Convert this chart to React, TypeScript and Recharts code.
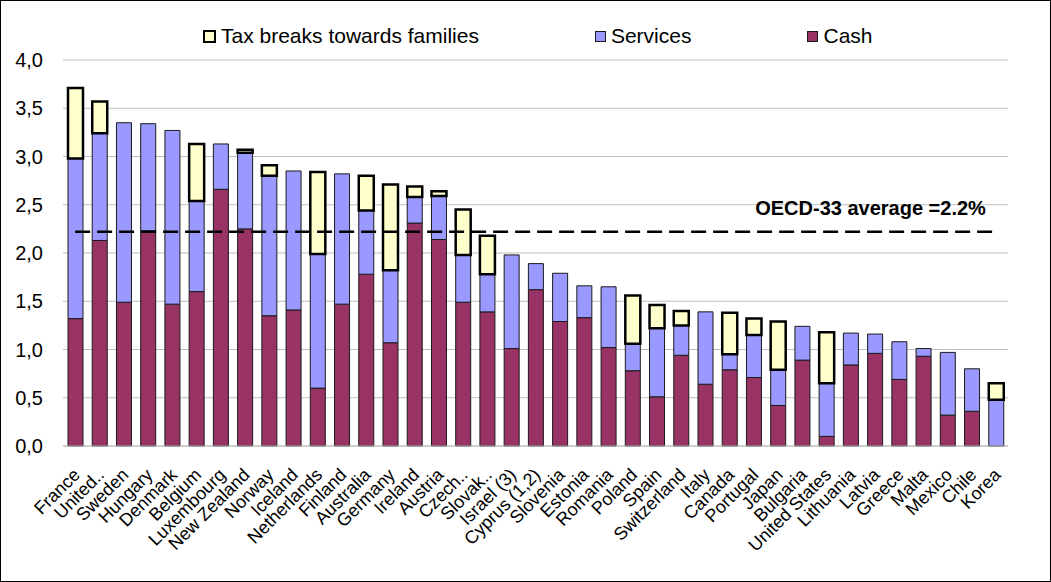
import {
  Bar,
  BarChart,
  CartesianGrid,
  Legend,
  ReferenceLine,
  XAxis,
  YAxis,
} from 'recharts';

const COUNTRIES = [
  'France', 'United..', 'Sweden', 'Hungary', 'Denmark', 'Belgium', 'Luxembourg',
  'New Zealand', 'Norway', 'Iceland', 'Netherlands', 'Finland', 'Australia',
  'Germany', 'Ireland', 'Austria', 'Czech..', 'Slovak..', 'Israel (3)',
  'Cyprus (1,2)', 'Slovenia', 'Estonia', 'Romania', 'Poland', 'Spain',
  'Switzerland', 'Italy', 'Canada', 'Portugal', 'Japan', 'Bulgaria',
  'United States', 'Lithuania', 'Latvia', 'Greece', 'Malta', 'Mexico', 'Chile', 'Korea',
];

const CASH = [
  1.32, 2.13, 1.49, 2.23, 1.47, 1.60, 2.66, 2.25, 1.35, 1.41, 0.60, 1.47, 1.78,
  1.07, 2.31, 2.14, 1.49, 1.39, 1.01, 1.62, 1.29, 1.33, 1.02, 0.78, 0.51, 0.94,
  0.64, 0.79, 0.71, 0.42, 0.89, 0.10, 0.84, 0.96, 0.69, 0.93, 0.32, 0.36, 0,
];

const SERVICES = [
  1.66, 1.11, 1.86, 1.11, 1.80, 0.94, 0.47, 0.79, 1.45, 1.44, 1.39, 1.35, 0.66,
  0.75, 0.27, 0.45, 0.49, 0.39, 0.97, 0.27, 0.50, 0.33, 0.63, 0.28, 0.71, 0.31,
  0.75, 0.16, 0.44, 0.37, 0.35, 0.55, 0.33, 0.20, 0.39, 0.08, 0.65, 0.44, 0.48,
];

const TAX_BREAKS = [
  0.73, 0.33, 0, 0, 0, 0.59, 0, 0.03, 0.11, 0, 0.85, 0, 0.36,
  0.89, 0.11, 0.05, 0.47, 0.40, 0, 0, 0, 0, 0, 0.50, 0.24, 0.15,
  0, 0.43, 0.17, 0.50, 0, 0.53, 0, 0, 0, 0, 0, 0, 0.17,
];

const Y_TICKS = [0, 0.5, 1, 1.5, 2, 2.5, 3, 3.5, 4];
const OECD_AVERAGE = 2.22;
const OECD_LABEL = 'OECD-33 average =2.2%';

const DATA = COUNTRIES.map((country, i) => ({
  country,
  cash: CASH[i],
  services: SERVICES[i],
  tax: TAX_BREAKS[i],
}));

const FONT = "'Liberation Sans', Arial, sans-serif";

const SERIES_STYLE: Record<string, { fill: string; stroke: string; strokeWidth: number }> = {
  cash:     { fill: '#993366', stroke: '#1a1a1a', strokeWidth: 1 },
  services: { fill: '#9999FF', stroke: '#1a1a1a', strokeWidth: 1 },
  tax:      { fill: '#FFFFCC', stroke: '#000000', strokeWidth: 2.5 },
};

interface LegendEntry {
  value?: string;
  dataKey?: string;
}

function ChartLegend({ payload }: { payload?: LegendEntry[] }) {
  const items = [...(payload ?? [])].reverse();
  return (
    <div style={{ display: 'flex', alignItems: 'center', gap: 116, fontFamily: FONT, fontSize: 21 }}>
      {items.map((entry) => {
        const s = SERIES_STYLE[String(entry.dataKey)];
        return (
          <div key={String(entry.dataKey)} style={{ display: 'flex', alignItems: 'center', gap: 5 }}>
            <span style={{
              width: 9, height: 9, background: s.fill,
              border: `${s.strokeWidth > 1 ? 2 : 1}px solid ${s.stroke}`,
              display: 'inline-block',
            }} />
            <span style={{ color: '#000', lineHeight: '24px' }}>{entry.value}</span>
          </div>
        );
      })}
    </div>
  );
}

interface TickProps {
  x?: number;
  y?: number;
  payload?: { value: string };
}

function CountryTick({ x = 0, y = 0, payload }: TickProps) {
  const ax = x + 6;
  const ay = y + 30;
  return (
    <text
      x={ax} y={ay}
      transform={`rotate(-45, ${ax}, ${ay})`}
      textAnchor="end"
      fontFamily={FONT}
      fontSize={18}
      fill="#000"
    >
      {payload?.value}
    </text>
  );
}

// eslint-disable-next-line @typescript-eslint/no-explicit-any
function AverageLabel(props: any) {
  const vb = props.viewBox ?? {};
  const right = (vb.x ?? 0) + (vb.width ?? 0) - 10;
  return (
    <text x={right} y={(vb.y ?? 0) - 17} textAnchor="end" fontFamily={FONT} fontSize={20} fontWeight={700} fill="#000">
      {OECD_LABEL}
    </text>
  );
}

export default function App() {
  return (
    <div style={{ position: 'fixed', left: 0, top: 0, width: 1051, height: 582, background: '#fff' }}>
      <BarChart
        width={1051}
        height={582}
        data={DATA}
        margin={{ top: 60, right: 43, left: 0, bottom: 0 }}
        barSize={15}
      >
        <CartesianGrid stroke="#bfbfbf" vertical={false} />
        <XAxis
          dataKey="country"
          interval={0}
          height={136}
          axisLine={{ stroke: '#bfbfbf' }}
          tickLine={false}
          tickSize={0}
          tickMargin={0}
          tick={<CountryTick />}
        />
        <YAxis
          width={63}
          domain={[0, 4]}
          ticks={Y_TICKS}
          axisLine={false}
          tickLine={false}
          tickSize={0}
          tickMargin={20}
          tick={{ fill: '#000', fontSize: 20, fontFamily: FONT }}
          tickFormatter={(v: number) => v.toFixed(1).replace('.', ',')}
        />
        <Legend
          verticalAlign="middle"
          align="center"
          wrapperStyle={{ top: 24, left: 203, width: 800 }}
          content={<ChartLegend />}
        />
        <Bar dataKey="cash" name="Cash" stackId="a" {...SERIES_STYLE.cash} isAnimationActive={false} />
        <Bar dataKey="services" name="Services" stackId="a" {...SERIES_STYLE.services} isAnimationActive={false} />
        <Bar dataKey="tax" name="Tax breaks towards families" stackId="a" {...SERIES_STYLE.tax} isAnimationActive={false} />
        <ReferenceLine
          segment={[{ x: 'France', y: OECD_AVERAGE }, { x: 'Korea', y: OECD_AVERAGE }]}
          stroke="#000"
          strokeWidth={2.5}
          strokeDasharray="15 7"
          label={AverageLabel}
        />
      </BarChart>
      <div style={{
        position: 'absolute', inset: 0, border: '1px solid #000',
        boxSizing: 'border-box', pointerEvents: 'none',
      }} />
    </div>
  );
}
